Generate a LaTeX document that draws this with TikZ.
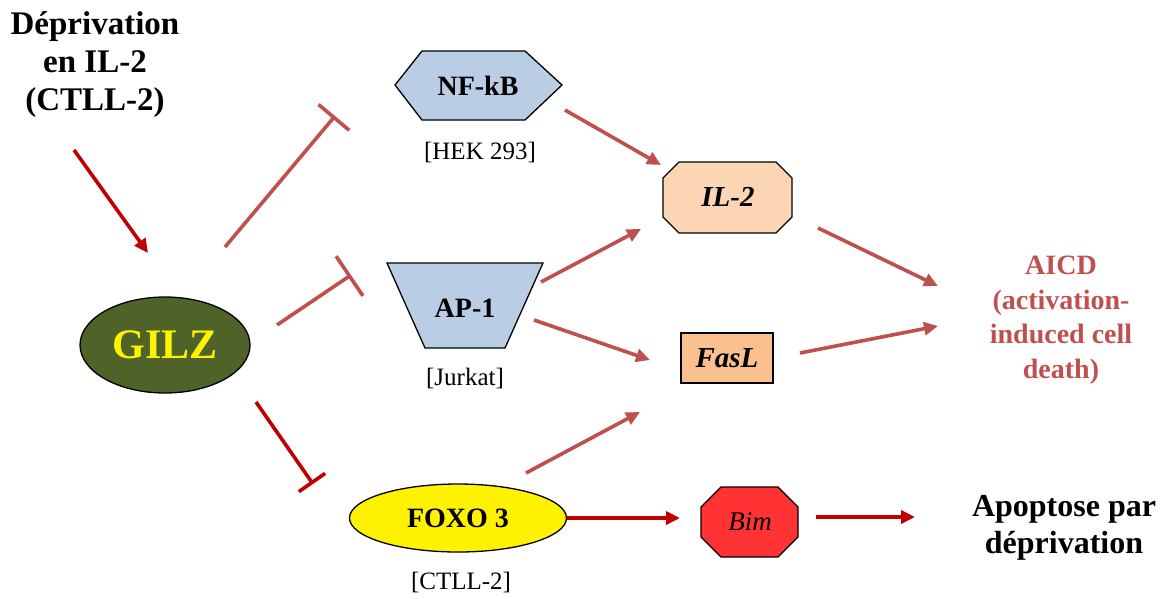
\documentclass[tikz,border=0pt]{standalone}
\usepackage{fontspec}
\setmainfont{Liberation Serif}
\usetikzlibrary{arrows.meta,shapes.geometric}
\definecolor{lightred}{HTML}{C0504D}
\definecolor{darkred}{HTML}{C00000}
\definecolor{gilzgreen}{HTML}{4F6228}
\definecolor{tfblue}{HTML}{B9CDE5}
\definecolor{il2peach}{HTML}{FCD5B5}
\definecolor{faslorange}{HTML}{FAC090}
\definecolor{bimred}{HTML}{FF3333}
\begin{document}
\begin{tikzpicture}[x=1pt,y=-1pt,
  act/.style={line width=3.6pt,-{Triangle[length=14pt,width=13pt]}},
  inhib/.style={line width=3.6pt,-{Bar[width=#1]}},
  box/.style={draw=black,line width=1.3pt},
  celltext/.style={font=\fontsize{25}{28}\selectfont},
  tftext/.style={font=\fontsize{28}{32}\selectfont\bfseries},
  genetext/.style={font=\fontsize{29}{32}\selectfont\bfseries\itshape},
  bigtext/.style={align=center,font=\fontsize{32}{37}\selectfont\bfseries}]
\useasboundingbox (0,0) rectangle (1167,598);

% --- shapes ---
\filldraw[box,fill=tfblue] (395,85) -- (422,51) -- (525,51) -- (562,85) -- (525,120) -- (422,120) -- cycle;
\filldraw[box,fill=il2peach] (663,178) -- (679,162) -- (776,162) -- (792,178) -- (792,217) -- (776,233) -- (679,233) -- (663,217) -- cycle;
\filldraw[box,fill=tfblue] (387,263) -- (543,263) -- (505,348) -- (425,348) -- cycle;
\filldraw[box,fill=faslorange] (681,333) rectangle (773,383);
\filldraw[box,fill=bimred] (701,507) -- (721,487) -- (778,487) -- (798,507) -- (798,537) -- (778,557) -- (721,557) -- (701,537) -- cycle;

% --- nodes ---
\node[bigtext,font=\fontsize{33}{38}\selectfont\bfseries] (dep) at (95,65) {Déprivation\\en IL-2\\(CTLL-2)};
\node[ellipse,box,fill=gilzgreen,minimum width=170pt,minimum height=96pt,inner sep=0pt,
      text=yellow,font=\fontsize{42}{46}\selectfont\bfseries] (gilz) at (165,345) {GILZ};
\node[tftext] (nfkb) at (478,86) {NF-kB};
\node[celltext] (hek) at (480,152) {[HEK 293]};
\node[genetext] (il2) at (728,197) {IL-2};
\node[tftext] (ap1) at (465,308) {AP-1};
\node[celltext] (jurkat) at (465,378) {[Jurkat]};
\node[genetext] (fasl) at (727,358) {FasL};
\node[ellipse,box,fill=yellow,minimum width=217pt,minimum height=68pt,inner sep=0pt,
      font=\fontsize{28}{32}\selectfont\bfseries] (foxo) at (458,518) {FOXO 3};
\node[celltext] (ctll) at (461,582) {[CTLL-2]};
\node[font=\fontsize{27}{30}\selectfont\itshape] (bim) at (750,522) {Bim};
\node[bigtext,text=lightred,font=\fontsize{28}{34.5}\selectfont\bfseries] (aicd) at (1061,320)
  {AICD\\(activation-\\induced cell\\death)};
\node[bigtext] (apop) at (1064,528) {Apoptose par\\déprivation};

% --- connector end points ---
\coordinate (dep-s) at (74,150);    \coordinate (gilz-n) at (148,253);
\coordinate (gilz-a) at (225,247);  \coordinate (nfkb-w) at (335,116);
\coordinate (gilz-b) at (277,325);  \coordinate (ap1-w) at (351,275);
\coordinate (gilz-c) at (256,402);  \coordinate (foxo-nw) at (313,484);
\coordinate (nfkb-se) at (565,110); \coordinate (il2-nw) at (661,165);
\coordinate (ap1-ne) at (541,282);  \coordinate (il2-sw) at (641,229);
\coordinate (ap1-e) at (534,320);   \coordinate (fasl-w) at (650,360);
\coordinate (foxo-ne) at (526,473); \coordinate (fasl-sw) at (640,412);
\coordinate (il2-se) at (818,228);  \coordinate (aicd-a) at (938,286);
\coordinate (fasl-e) at (800,353);  \coordinate (aicd-b) at (938,326);
\coordinate (foxo-e) at (567,518);  \coordinate (bim-w) at (680,518);
\coordinate (bim-e) at (816,517);   \coordinate (apop-w) at (915,517);

% --- connectors ---
\draw[act,darkred] (dep-s) -- (gilz-n);
\draw[inhib=40pt,lightred] (gilz-a) -- (nfkb-w);
\draw[inhib=48pt,lightred] (gilz-b) -- (ap1-w);
\draw[inhib=32pt,darkred] (gilz-c) -- (foxo-nw);
\draw[act,lightred] (nfkb-se) -- (il2-nw);
\draw[act,lightred] (ap1-ne) -- (il2-sw);
\draw[act,lightred] (ap1-e) -- (fasl-w);
\draw[act,lightred] (foxo-ne) -- (fasl-sw);
\draw[act,lightred] (il2-se) -- (aicd-a);
\draw[act,lightred] (fasl-e) -- (aicd-b);
\draw[act,darkred] (foxo-e) -- (bim-w);
\draw[act,darkred] (bim-e) -- (apop-w);
\end{tikzpicture}
\end{document}
